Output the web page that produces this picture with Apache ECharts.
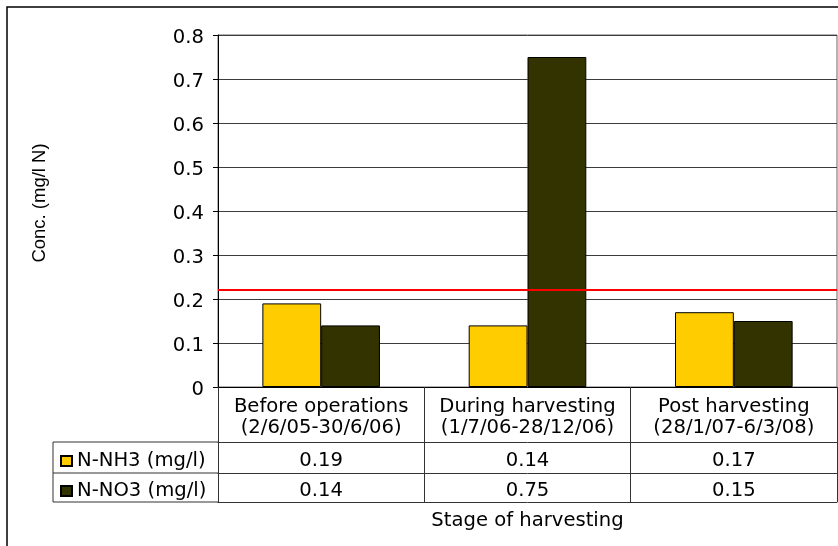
<!DOCTYPE html>
<html>
<head>
<meta charset="utf-8">
<script src="https://cdn.jsdelivr.net/npm/echarts@6/dist/echarts.min.js"></script>
<style>
  html, body { margin: 0; padding: 0; background: #fff; }
  #chart { width: 838px; height: 546px; }
</style>
</head>
<body>
<div id="chart"></div>
<script>
// Sampling stages (category labels, two lines each)
const categories = [
  'Before operations\n(2/6/05-30/6/06)',
  'During harvesting\n(1/7/06-28/12/06)',
  'Post harvesting\n(28/1/07-6/3/08)'
];
const seriesNames = ['N-NH3 (mg/l)', 'N-NO3 (mg/l)'];
const nh3 = [0.19, 0.14, 0.17];
const no3 = [0.14, 0.75, 0.15];
// Guideline concentration drawn as a horizontal red line
const guideline = 0.224;
const yMin = 0, yMax = 0.8, yStep = 0.1;

// Layout of the plot and of the data table underneath it
const FONT = 'DejaVu Sans';
const FS = 19.6;
const GRID_LEFT = 218, GRID_TOP = 35, GRID_RIGHT = 1, PLOT_BOTTOM = 387;
const HEAD_H = 55, ROW1_H = 31, ROW2_H = 29;
const TABLE_LEFT = 53;
const yRow1 = PLOT_BOTTOM + HEAD_H;
const yRow2 = yRow1 + ROW1_H;
const yEnd = yRow2 + ROW2_H;
const lineCol = '#333';

const chart = echarts.init(document.getElementById('chart'), null, { renderer: 'canvas' });

const txt = { fontFamily: FONT, fontSize: FS, color: '#000' };

const option = {
  animation: false,
  backgroundColor: '#fff',
  grid: {
    left: GRID_LEFT, top: GRID_TOP, right: GRID_RIGHT, bottom: 546 - PLOT_BOTTOM,
    show: true, borderColor: '#666', borderWidth: 1,
    containLabel: false, outerBoundsMode: 'none'
  },
  legend: {
    orient: 'vertical',
    left: 60, top: yRow1 + 9,
    padding: 0,
    itemGap: 10,
    itemWidth: 11, itemHeight: 10,
    itemTextGap: 6,
    icon: 'rect',
    selectedMode: false,
    textStyle: Object.assign({ lineHeight: 20 }, txt),
    data: seriesNames
  },
  xAxis: [
    {
      // category header row
      type: 'category', data: categories, position: 'bottom', offset: 0,
      axisLine: { show: true, lineStyle: { color: '#000', width: 1 } },
      axisTick: { show: true, alignWithLabel: false, length: HEAD_H, lineStyle: { color: lineCol } },
      axisLabel: Object.assign({ margin: 9, lineHeight: 21, interval: 0 }, txt),
      splitLine: { show: false }
    },
    {
      // N-NH3 row of the table
      type: 'category', data: nh3.map(v => v.toFixed(2)), position: 'bottom', offset: HEAD_H,
      axisLine: { show: true, lineStyle: { color: lineCol, width: 1 } },
      axisTick: { show: true, alignWithLabel: false, length: ROW1_H, lineStyle: { color: lineCol } },
      axisLabel: Object.assign({ margin: 9, lineHeight: 20, interval: 0 }, txt),
      splitLine: { show: false }
    },
    {
      // N-NO3 row of the table
      type: 'category', data: no3.map(v => v.toFixed(2)), position: 'bottom', offset: HEAD_H + ROW1_H,
      axisLine: { show: true, lineStyle: { color: lineCol, width: 1 } },
      axisTick: { show: true, alignWithLabel: false, length: ROW2_H, lineStyle: { color: lineCol } },
      axisLabel: Object.assign({ margin: 8, lineHeight: 20, interval: 0 }, txt),
      splitLine: { show: false }
    },
    {
      // bottom edge of the table and the axis title
      type: 'category', data: categories.map(() => ''), position: 'bottom', offset: HEAD_H + ROW1_H + ROW2_H,
      axisLine: { show: true, lineStyle: { color: lineCol, width: 1 } },
      axisTick: { show: false },
      axisLabel: { show: false },
      splitLine: { show: false },
      name: 'Stage of harvesting',
      nameLocation: 'middle',
      nameGap: 9,
      nameTextStyle: Object.assign({ lineHeight: 20 }, txt)
    }
  ],
  yAxis: {
    type: 'value', min: yMin, max: yMax, interval: yStep,
    axisLine: { show: true, lineStyle: { color: '#000', width: 1 } },
    axisTick: { show: true, length: 5, lineStyle: { color: '#000' } },
    axisLabel: Object.assign({
      margin: 14,
      formatter: v => '{t|' + (v === 0 ? '0' : v.toFixed(1)) + '}',
      rich: { t: Object.assign({ padding: [5, 0, 0, 0], lineHeight: 20 }, txt) }
    }, txt),
    splitLine: { show: true, lineStyle: { color: '#3c3c3c', width: 1 } }
  },
  series: [
    {
      name: seriesNames[0], type: 'bar', data: nh3,
      barGap: '0%', barCategoryGap: '43%',
      itemStyle: { color: '#FFCC00', borderColor: '#000', borderWidth: 1 },
      markLine: {
        silent: true, symbol: 'none',
        label: { show: false },
        lineStyle: { color: '#ff0000', width: 2, type: 'solid' },
        data: [{ yAxis: guideline }]
      }
    },
    {
      name: seriesNames[1], type: 'bar', data: no3,
      itemStyle: { color: '#333300', borderColor: '#000', borderWidth: 1 }
    }
  ],
  graphic: [
    // outer chart frame
    { type: 'rect', silent: true, shape: { x: 7, y: 7, width: 900, height: 600 },
      style: { fill: null, stroke: '#000', lineWidth: 1.5 } },
    // legend column of the data table
    { type: 'line', silent: true, shape: { x1: TABLE_LEFT, y1: yRow1, x2: GRID_LEFT, y2: yRow1 }, style: { stroke: lineCol, lineWidth: 1 } },
    { type: 'line', silent: true, shape: { x1: TABLE_LEFT, y1: yRow2, x2: GRID_LEFT, y2: yRow2 }, style: { stroke: lineCol, lineWidth: 1 } },
    { type: 'line', silent: true, shape: { x1: TABLE_LEFT, y1: yEnd, x2: GRID_LEFT, y2: yEnd }, style: { stroke: lineCol, lineWidth: 1 } },
    { type: 'line', silent: true, shape: { x1: TABLE_LEFT, y1: yRow1, x2: TABLE_LEFT, y2: yEnd }, style: { stroke: lineCol, lineWidth: 1 } },
    // y axis title
    { type: 'text', silent: true, x: 40, y: 203, rotation: Math.PI / 2,
      style: { text: 'Conc. (mg/l N)', align: 'center', verticalAlign: 'middle',
               font: '18.5px "Liberation Sans", Arial, sans-serif', fill: '#000' } }
  ]
};

chart.setOption(option);
</script>
</body>
</html>
